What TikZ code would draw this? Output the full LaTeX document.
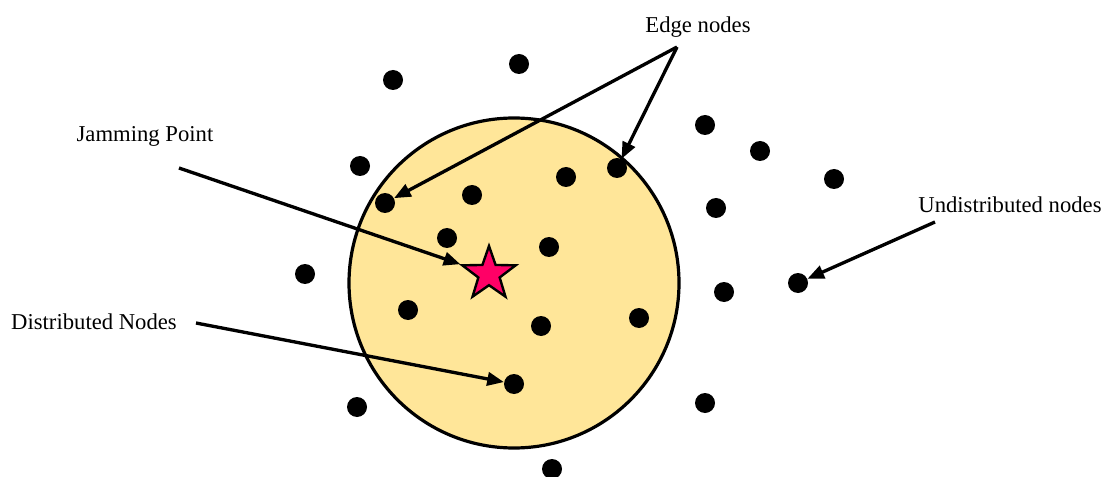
\documentclass[tikz,border=0pt]{standalone}
\usepackage{fontspec}
\setmainfont{Liberation Serif}
\usetikzlibrary{shapes.geometric,arrows.meta}
\definecolor{zonefill}{HTML}{FFE699}
\definecolor{jamred}{HTML}{FF0066}
\tikzset{
  dot/.style={circle,fill=black,draw=none,minimum size=15pt,inner sep=0pt},
  lbl/.style={font=\fontsize{17}{20}\selectfont,inner sep=0pt},
  ptr/.style={line width=2.5pt,-{Triangle[length=12.5pt,width=10pt]}},
}
\begin{document}
\begin{tikzpicture}[x=0.75pt,y=-0.75pt]
\useasboundingbox (0,0) rectangle (1109,477);
% coverage zone
\draw[line width=2.4pt,fill=zonefill] (514,283) circle[radius=165];
% outside nodes
\node[dot] (o1) at (393,80) {};
\node[dot] (o2) at (519,64) {};
\node[dot] (o3) at (360,166) {};
\node[dot] (o4) at (305,274) {};
\node[dot] (o5) at (357,407) {};
\node[dot] (o6) at (552,469) {};
\node[dot] (o7) at (705,125) {};
\node[dot] (o8) at (760,151) {};
\node[dot] (o9) at (834,179) {};
\node[dot] (o10) at (716,208) {};
\node[dot] (o11) at (724,292) {};
\node[dot] (o12) at (798,283) {};
\node[dot] (o13) at (705,403) {};
% inside nodes
\node[dot] (i1) at (385,203) {};
\node[dot] (i2) at (472,195) {};
\node[dot] (i3) at (566,177) {};
\node[dot] (i4) at (617,168) {};
\node[dot] (i5) at (447,238) {};
\node[dot] (i6) at (549,247) {};
\node[dot] (i7) at (408,310) {};
\node[dot] (i8) at (541,326) {};
\node[dot] (i9) at (639,318) {};
\node[dot] (i10) at (514,384) {};
% jamming point
\node[star,star points=5,star point ratio=2.5,minimum size=42pt,inner sep=0pt,
      fill=jamred,draw=black,line width=1.8pt] (jam) at (489,274) {};
% labels
\node[lbl] (tedge) at (698,27) {Edge nodes};
\node[lbl] (tjam) at (145,136) {Jamming Point};
\node[lbl] (tdist) at (94,322) {Distributed Nodes};
\node[lbl] (tund) at (1010,205) {Undistributed nodes};
% arrow starts
\coordinate (aedge) at (677,47);
\coordinate (ajam) at (179,168);
\coordinate (adist) at (196,323);
\coordinate (aund) at (935,222);
% arrows
\draw[ptr] (aedge) -- (i1);
\draw[ptr] (aedge) -- (i4);
\draw[ptr] (ajam) -- (jam);
\draw[ptr] (adist) -- (i10);
\draw[ptr] (aund) -- (o12);
\end{tikzpicture}
\end{document}
